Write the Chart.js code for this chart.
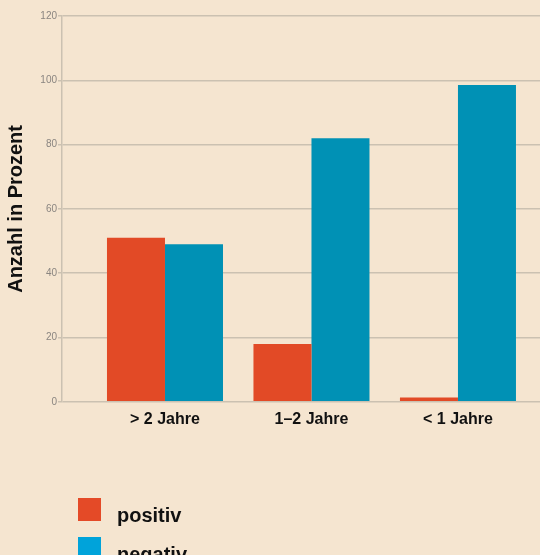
<!DOCTYPE html>
<html>
<head>
<meta charset="utf-8">
<script src="https://cdn.jsdelivr.net/npm/chart.js@4"></script>
<style>
  html, body { margin: 0; padding: 0; background: #f5e5d0; }
  #wrap { position: relative; width: 540px; height: 555px; }
  #legend { position: absolute; left: 78px; top: 498px; font: bold 20px "Liberation Sans", Arial, sans-serif; color: #111; }
  #legend div { position: relative; height: 39px; }
  #legend span.box { position: absolute; left: 0; top: 0; width: 23px; height: 23px; }
  #legend span.txt { position: absolute; left: 39px; top: 6px; }
</style>
</head>
<body>
<div id="wrap">
  <canvas id="chart" width="540" height="555"></canvas>
  <div id="legend"></div>
</div>
<script>
// data
const categories = ["> 2 Jahre", "1–2 Jahre", "< 1 Jahre"];
const positiv = [51, 18, 1.3];
const negativ = [49, 82, 98.5];
const yTicks = [0, 20, 40, 60, 80, 100, 120];
const seriesNames = ["positiv", "negativ"];
const barColors = ["#e24a26", "#0091b5"];
const legendColors = ["#e44a27", "#00a3da"];

const font = "'Liberation Sans', Arial, sans-serif";
const gridColor = "#cbc1b1";

const ctx = document.getElementById("chart");

const chart = new Chart(ctx, {
  type: "bar",
  data: {
    datasets: [positiv, negativ].map((vals, k) => ({
      label: seriesNames[k],
      data: vals.map((v, i) => ({ x: i + 1, y: v })),
      backgroundColor: barColors[k],
      categoryPercentage: 0.792,
      barPercentage: 1.0
    }))
  },
  options: {
    responsive: false,
    animation: false,
    layout: { padding: { top: 16, right: 0, bottom: 118, left: 0 } },
    plugins: {
      legend: { display: false },
      tooltip: { enabled: false }
    },
    scales: {
      x: {
        type: "linear",
        offset: false,
        min: 0.297,
        max: 3.56,
        grid: { display: false, drawTicks: false, offset: false },
        border: { display: false },
        afterBuildTicks: (scale) => {
          scale.ticks = categories.map((c, i) => ({ value: i + 1 }));
        },
        ticks: {
          autoSkip: false,
          maxRotation: 0,
          padding: 8,
          color: "#111",
          font: { family: font, size: 16, weight: "bold" },
          callback: (v) => categories[v - 1]
        }
      },
      y: {
        min: yTicks[0],
        max: yTicks[yTicks.length - 1],
        afterBuildTicks: (scale) => {
          scale.ticks = yTicks.map(v => ({ value: v }));
        },
        afterFit: (scale) => { scale.width = 62; },
        grid: { color: gridColor, lineWidth: 1.5, tickLength: 4 },
        border: { color: gridColor, width: 1.5 },
        ticks: {
          padding: 1,
          color: "#8a8580",
          font: { family: font, size: 10 }
        },
        title: {
          display: true,
          text: "Anzahl in Prozent",
          color: "#111",
          padding: { top: 4, bottom: 0 },
          font: { family: font, size: 20, weight: "bold" }
        }
      }
    }
  }
});

// legend below, one entry per line
const legendEl = document.getElementById("legend");
chart.data.datasets.forEach((ds, k) => {
  const row = document.createElement("div");
  row.innerHTML = `<span class="box" style="background:${legendColors[k]}"></span><span class="txt">${ds.label}</span>`;
  legendEl.appendChild(row);
});
</script>
</body>
</html>
